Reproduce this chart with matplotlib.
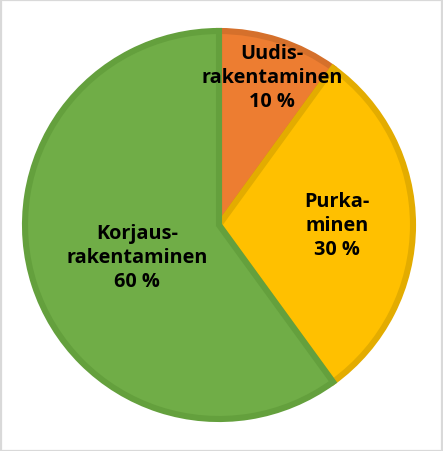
import matplotlib
matplotlib.use("Agg")
import matplotlib.pyplot as plt
from matplotlib.patches import Rectangle

labels = ["Uudis-\nrakentaminen\n10 %", "Purka-\nminen\n30 %", "Korjaus-\nrakentaminen\n60 %"]
values = [10, 30, 60]
colors = ["#ED7D31", "#FFC000", "#70AD47"]
edges = ["#D5702B", "#E3AC00", "#64A03D"]

W, H = 443, 452
fig = plt.figure(figsize=(W / 100, H / 100), dpi=100)
cx, cy, r = 219, 226, 194
ax = fig.add_axes([(cx - r) / W, (H - cy - r) / H, 2 * r / W, 2 * r / H])

wedges, _ = ax.pie(values, colors=colors, startangle=90, counterclock=False,
                   radius=1.0, wedgeprops=dict(linewidth=4.4))
for w, e in zip(wedges, edges):
    w.set_edgecolor(e)
    w.set_joinstyle("miter")
ax.set_xlim(-1, 1)
ax.set_ylim(-1, 1)
ax.set_aspect("equal")
ax.axis("off")

positions = [(272, 78), (337, 226), (137, 258)]
for (px, py), lab in zip(positions, labels):
    fig.text(px / W, 1 - py / H, lab, ha="center", va="center", fontsize=14.3,
             fontweight="bold", family="Open Sans", linespacing=1.25, color="black")

fig.patches.append(Rectangle((0.5 / W, 0.5 / H), 1 - 1.5 / W, 1 - 1.5 / H,
                             transform=fig.transFigure, fill=False,
                             edgecolor="#D9D9D9", linewidth=1.6))
fig.savefig("out.png", dpi=100)
